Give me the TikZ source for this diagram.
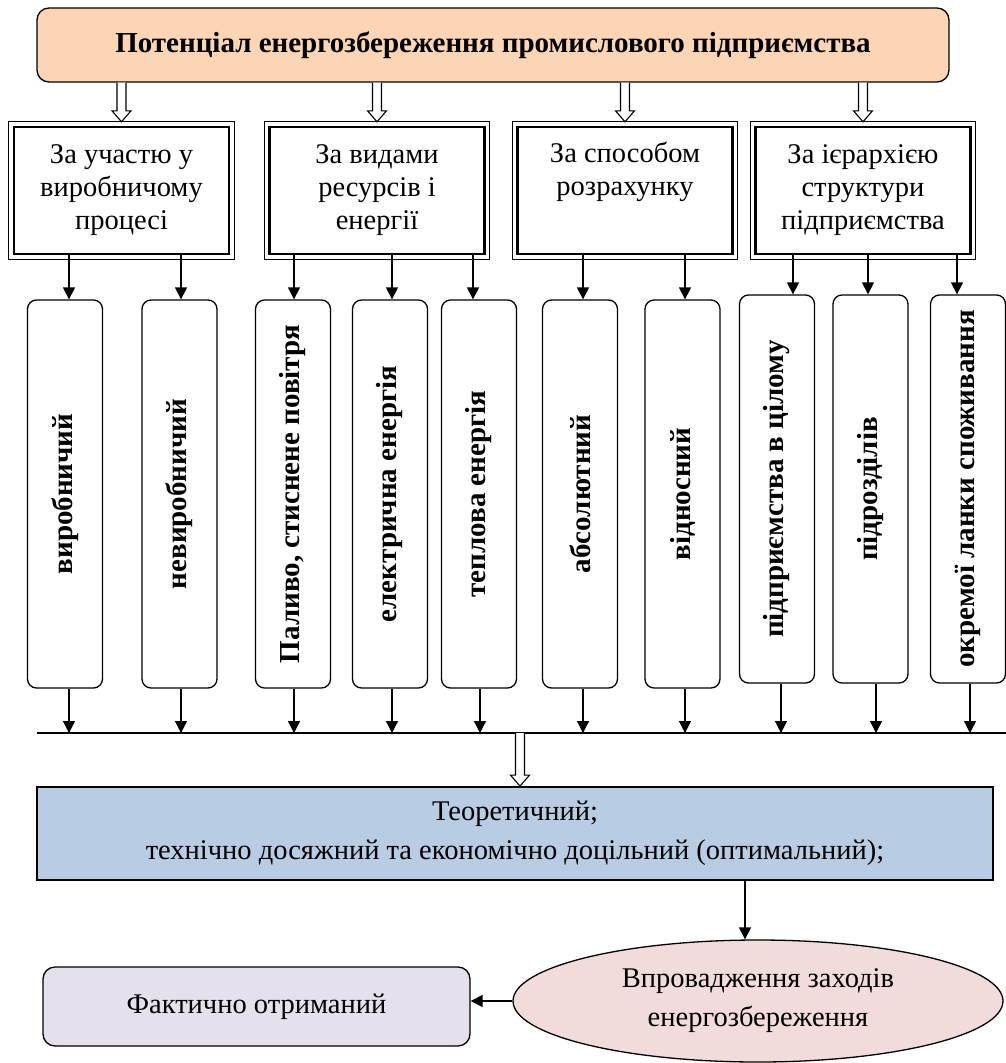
\documentclass[tikz,border=0pt]{standalone}
\usepackage{fontspec}
\setmainfont{Liberation Serif}
\usepackage{tikz}
\usetikzlibrary{shapes.geometric,arrows.meta,calc,positioning}
\definecolor{myPeach}{RGB}{251,213,181}
\definecolor{myBlue}{RGB}{184,204,228}
\definecolor{myPink}{RGB}{242,220,219}
\definecolor{myLilac}{RGB}{229,224,236}

\tikzset{
  txt/.style={font=\fontsize{28.5}{33}\selectfont},
  catbox/.style={draw, line width=2.4pt, minimum width=215pt, minimum height=127pt, inner sep=0pt, align=center, txt},
  vbox/.style={draw, line width=1.3pt, rounded corners=9pt, minimum width=75pt, minimum height=388pt, inner sep=0pt, font=\fontsize{29}{33}\selectfont\bfseries},
  arr/.style={line width=1.3pt, -{Triangle[width=12pt, length=12pt]}}
}
% hohler Pfeil nach unten: #1 Anfang, #2 Spitze
\newcommand{\hollowdown}[2]{%
  \draw[line width=1.1pt, fill=white] ($(#1)+(-0.45,0)$) -- ($(#2)+(-0.45,-1.1)$) -- ($(#2)+(-0.95,-1.1)$) -- (#2) -- ($(#2)+(0.95,-1.1)$) -- ($(#2)+(0.45,-1.1)$) -- ($(#1)+(0.45,0)$);
}

\begin{document}
\begin{tikzpicture}[x=10pt, y=-10pt]
  \useasboundingbox (0,0) rectangle (100.6,106.3);
  % Potenzial
  \node[draw, line width=1.3pt, fill=myPeach, rounded corners=12pt, minimum width=912pt, minimum height=74pt, font=\fontsize{29}{33}\selectfont\bfseries] (pot) at (49.3, 4.5) {Потенціал енергозбереження промислового підприємства};
  % Merkmale
  \node[catbox] (cat1) at (12.15, 19.05) {За участю у\\виробничому\\процесі};
  \node[catbox] (cat2) at (37.7, 19.05) {За видами\\ресурсів і\\енергії};
  \node[catbox] (cat3) at (62.5, 19.05) {За способом\\розрахунку\\\strut};
  \node[catbox] (cat4) at (86.3, 19.05) {За ієрархією\\структури\\підприємства};
  \foreach \c in {cat1, cat2, cat3, cat4} {
    \draw[line width=1.1pt] ([xshift=-4pt, yshift=-4pt]\c.south west) rectangle ([xshift=4pt, yshift=4pt]\c.north east);
    \coordinate (h\c) at (pot.south -| \c.north);
    \coordinate (t\c) at ([yshift=4pt]\c.north);
    \hollowdown{h\c}{t\c}
  }
  % Arten
  \node[vbox] (v1) at (6.5, 49.4) {\rotatebox{90}{виробничий}};
  \node[vbox] (v2) at (17.95, 49.4) {\rotatebox{90}{невиробничий}};
  \node[vbox] (v3) at (29.3, 49.4) {\rotatebox{90}{Паливо, стиснене повітря}};
  \node[vbox] (v4) at (39.0, 49.4) {\rotatebox{90}{електрична енергія}};
  \node[vbox] (v5) at (47.9, 49.4) {\rotatebox{90}{теплова енергія}};
  \node[vbox] (v6) at (58.0, 49.4) {\rotatebox{90}{абсолютний}};
  \node[vbox] (v7) at (68.25, 49.4) {\rotatebox{90}{відносний}};
  \node[vbox] (v8) at (77.7, 48.9) {\rotatebox{90}{підприємства в цілому}};
  \node[vbox] (v9) at (87.05, 48.9) {\rotatebox{90}{підрозділів}};
  \node[vbox] (v10) at (96.8, 48.9) {\rotatebox{90}{окремої ланки споживання}};
  % Sammelschiene
  \coordinate (busL) at (3.7, 73.3);
  \coordinate (busR) at (100.6, 73.3);
  \draw[line width=2.4pt] (busL) -- (busR);
  \foreach \v/\c/\a/\b in {v1/cat1/4/4, v2/cat1/1.5/1.5, v3/cat2/1/1, v4/cat2/2/2, v5/cat2/-6/1, v6/cat3/3/3, v7/cat3/2.5/2.5, v8/cat4/16/4, v9/cat4/-2.5/5.5, v10/cat4/-11/2} {
    \draw[arr] ([xshift=\a pt]\v.north |- \c.south) -- ([xshift=\a pt]\v.north);
    \draw[arr] ([xshift=\b pt]\v.south) -- ([xshift=\b pt]\v.south |- busL);
  }
  % Ergebnis
  \node[draw, line width=1.8pt, fill=myBlue, minimum width=956pt, minimum height=93pt, align=center, font=\fontsize{28.5}{39}\selectfont] (res) at (51.5, 83.35) {Теоретичний;\\технічно досяжний та економічно доцільний (оптимальний);};
  \coordinate (hres) at ([xshift=5pt]busL -| res.north);
  \coordinate (tres) at ([xshift=5pt]res.north);
  \hollowdown{hres}{tres}
  % Umsetzung
  \node[ellipse, draw, line width=1.3pt, fill=myPink, minimum width=490pt, minimum height=122pt, inner sep=0pt, align=center, font=\fontsize{28.5}{39}\selectfont] (eff) at (75.8, 100.1) {Впровадження заходів\\енергозбереження};
  \node[draw, line width=1.3pt, fill=myLilac, rounded corners=12pt, minimum width=427pt, minimum height=79pt, txt] (fact) at (25.65, 100.65) {Фактично отриманий};
  \draw[arr] ([xshift=-13pt]eff.north |- res.south) -- ([xshift=-13pt]eff.north);
  \draw[arr] (eff.west) -- (eff.west -| fact.east);
\end{tikzpicture}
\end{document}
